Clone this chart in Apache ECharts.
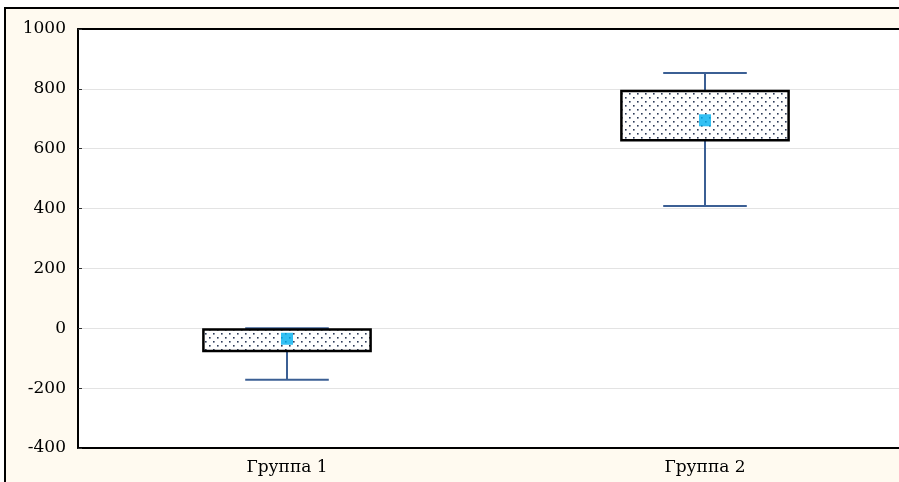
<!DOCTYPE html>
<html><head><meta charset="utf-8">
<script src="https://cdn.jsdelivr.net/npm/echarts@6/dist/echarts.min.js"></script>
<style>html,body{margin:0;padding:0;background:#fff}#c{width:899px;height:482px}</style>
</head><body><div id="c"></div>
<script>
const categories = ['Группа 1', 'Группа 2'];
const whiskerLow = [-172, 409];
const boxLow = [-76, 628];
const boxHigh = [-4, 793];
const whiskerHigh = [0, 853];
const means = [-35, 695];
const yTicks = [-400, -200, 0, 200, 400, 600, 800, 1000];

// dotted pattern
const pc = document.createElement('canvas');
pc.width = 8; pc.height = 8;
const pctx = pc.getContext('2d');
pctx.fillStyle = '#fff'; pctx.fillRect(0, 0, 8, 8);
pctx.fillStyle = '#2c3a58';
pctx.fillRect(1, 1, 1.6, 1.6);
pctx.fillRect(5, 5, 1.6, 1.6);

const boxData = categories.map((c, i) => [i, whiskerLow[i], boxLow[i], boxHigh[i], whiskerHigh[i]]);
const meanData = categories.map((c, i) => [i, means[i]]);

const chart = echarts.init(document.getElementById('c'));
const serif = '"DejaVu Serif", "Liberation Serif", serif';
chart.setOption({
  animation: false,
  backgroundColor: '#fff',
  graphic: [{
    type: 'rect', z: -10, silent: true,
    shape: { x: 5, y: 8, width: 1000, height: 1000 },
    style: { fill: '#fffaf0', stroke: '#000', lineWidth: 2 }
  }],
  grid: { left: 78, top: 29, width: 836, height: 419, show: true, backgroundColor: '#fff', borderWidth: 0, containLabel: false, outerBoundsMode: 'none' },
  xAxis: [{
    type: 'category', data: categories, position: 'bottom',
    axisLine: { onZero: false, lineStyle: { color: '#000', width: 2 } },
    axisTick: { inside: true, alignWithLabel: true, length: 5, lineStyle: { color: '#000' } },
    axisLabel: { color: '#000', fontFamily: serif, fontSize: 17, margin: 11 },
    splitLine: { show: false }
  }, {
    type: 'category', data: categories, position: 'top',
    axisLine: { onZero: false, lineStyle: { color: '#000', width: 2 } },
    axisTick: { inside: true, alignWithLabel: true, length: 4, lineStyle: { color: '#000' } },
    axisLabel: { show: false }
  }],
  yAxis: {
    type: 'value', min: yTicks[0], max: yTicks[yTicks.length - 1], interval: 200,
    axisLine: { show: true, lineStyle: { color: '#000', width: 2 } },
    axisTick: { show: true, inside: true, length: 4, lineStyle: { color: '#333' } },
    axisLabel: { color: '#000', fontFamily: serif, fontSize: 17, margin: 12, formatter: v => String(v) },
    splitLine: { show: true, lineStyle: { color: '#e3e3e3', width: 1 } }
  },
  series: [{
    type: 'custom',
    data: boxData,
    encode: { x: 0, y: [1, 2, 3, 4] },
    renderItem: function (params, api) {
      const x = api.value(0);
      const pLow = api.coord([x, api.value(1)]);
      const pQ1 = api.coord([x, api.value(2)]);
      const pQ3 = api.coord([x, api.value(3)]);
      const pHigh = api.coord([x, api.value(4)]);
      const band = api.size([1, 0])[0];
      const bw = band * 0.4, cw = band * 0.2;
      const wc = '#3b5f94';
      return {
        type: 'group',
        children: [
          { type: 'line', shape: { x1: pLow[0], y1: pLow[1], x2: pHigh[0], y2: pHigh[1] }, style: { stroke: wc, lineWidth: 2 } },
          { type: 'line', shape: { x1: pLow[0] - cw / 2, y1: pLow[1], x2: pLow[0] + cw / 2, y2: pLow[1] }, style: { stroke: wc, lineWidth: 2 } },
          { type: 'line', shape: { x1: pHigh[0] - cw / 2, y1: pHigh[1], x2: pHigh[0] + cw / 2, y2: pHigh[1] }, style: { stroke: wc, lineWidth: 2 } },
          { type: 'rect', shape: { x: pQ3[0] - bw / 2, y: pQ3[1], width: bw, height: pQ1[1] - pQ3[1] },
            style: { fill: { image: pc, repeat: 'repeat' }, stroke: '#000', lineWidth: 2.5 } }
        ]
      };
    },
    z: 2
  }, {
    type: 'scatter',
    data: meanData,
    symbol: 'rect', symbolSize: 12,
    itemStyle: { color: '#00b0f0' },
    z: 5
  }]
});
</script></body></html>
